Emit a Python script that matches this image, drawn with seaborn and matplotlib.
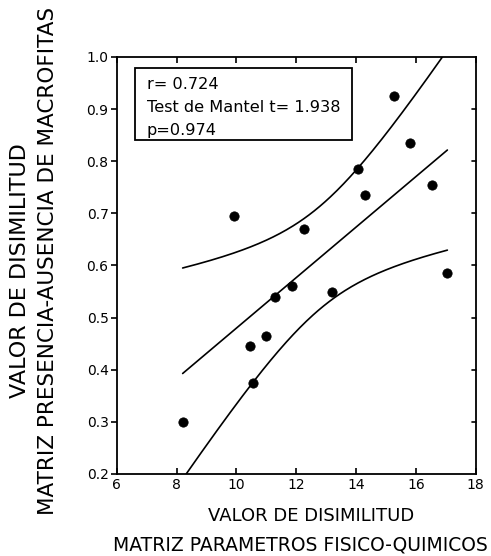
"""
Mantel test scatter: dissimilarity of macrophyte presence/absence matrix
vs dissimilarity of physico-chemical parameter matrix, with fitted line
and 99% confidence band. Saves out.png
"""
import numpy as np
import pandas as pd
import matplotlib
matplotlib.use("Agg")
import matplotlib.pyplot as plt
from matplotlib.patches import Rectangle
import seaborn as sns

sns.set_theme(style="ticks")
plt.rcParams["font.family"] = ["DejaVu Sans"]
for key in ["text.color", "axes.labelcolor", "xtick.color", "ytick.color", "axes.edgecolor"]:
    plt.rcParams[key] = "black"

# values
disim_fq = [8.2, 9.9, 10.45, 10.55, 11.0, 11.3, 11.85, 12.25, 13.2, 14.05, 14.3, 15.25, 15.8, 16.55, 17.05]
disim_macro = [0.30, 0.695, 0.445, 0.375, 0.465, 0.54, 0.56, 0.67, 0.55, 0.785, 0.735, 0.925, 0.835, 0.755, 0.585]
stats_text = ["r= 0.724", "Test de Mantel t= 1.938", "p=0.974"]
x_ticks = [6, 8, 10, 12, 14, 16, 18]
y_ticks = [0.2, 0.3, 0.4, 0.5, 0.6, 0.7, 0.8, 0.9, 1.0]

df = pd.DataFrame({"fq": disim_fq, "macro": disim_macro})

# ---------- least squares fit + confidence band ----------
x = df["fq"].to_numpy()
y = df["macro"].to_numpy()
n = len(x)
slope, intercept = np.polyfit(x, y, 1)
resid = y - (intercept + slope * x)
s = np.sqrt((resid ** 2).sum() / (n - 2))
sxx = ((x - x.mean()) ** 2).sum()
t_crit = 3.012  # t(0.995, 13 df)
grid = np.linspace(x.min(), x.max(), 200)
fit = intercept + slope * grid
half = t_crit * s * np.sqrt(1 / n + (grid - x.mean()) ** 2 / sxx)
band = pd.DataFrame({"x": grid, "fit": fit, "lo": fit - half, "hi": fit + half})

# ---------- plot ----------
fig = plt.figure(figsize=(4.91, 5.56), dpi=100)
ax = fig.add_axes([0.238, 0.1475, 0.731, 0.75])

for col in ["fit", "lo", "hi"]:
    sns.lineplot(data=band, x="x", y=col, color="black", lw=1.2, ax=ax)
sns.scatterplot(data=df, x="fq", y="macro", color="black", s=45, edgecolor="black", ax=ax, zorder=3)

ax.set_xlim(6, 18)
ax.set_ylim(0.2, 1.0)
ax.set_xticks(x_ticks)
ax.set_yticks(y_ticks)
ax.set_xticklabels([str(v) for v in x_ticks])
ax.set_yticklabels([f"{v:.1f}" for v in y_ticks])
ax.tick_params(axis="both", labelsize=10, length=4, width=1.2)
ax.tick_params(axis="x", direction="in", top=True, pad=3)
ax.tick_params(axis="y", direction="out", pad=2, right=False)
for side in ["left", "right", "top", "bottom"]:
    ax.spines[side].set_visible(True)
    ax.spines[side].set_linewidth(1.3)
# right-hand ticks point inward
for yv in y_ticks[1:-1]:
    ax.plot([17.86, 18], [yv, yv], color="black", lw=1.2, clip_on=False)

ax.set_xlabel("")
ax.set_ylabel("")

# stats box
ax.add_patch(Rectangle((0.05, 0.801), 0.605, 0.173, transform=ax.transAxes,
                       fc="white", ec="black", lw=1.3, zorder=4))
for txt, ty in zip(stats_text, [0.935, 0.878, 0.823]):
    ax.text(0.0836, ty, txt, transform=ax.transAxes, fontsize=11.6,
            va="center", ha="left", zorder=5)

fig.text(0.633, 0.072, "VALOR DE DISIMILITUD", ha="center", va="center", fontsize=13)
fig.text(0.611, 0.02, "MATRIZ PARAMETROS FISICO-QUIMICOS", ha="center", va="center", fontsize=13.5)
fig.text(0.041, 0.514, "VALOR DE DISIMILITUD", ha="center", va="center", rotation=90, fontsize=16)
fig.text(0.098, 0.53, "MATRIZ PRESENCIA-AUSENCIA DE MACROFITAS", ha="center", va="center", rotation=90, fontsize=15.5)

fig.savefig("out.png", dpi=100)
